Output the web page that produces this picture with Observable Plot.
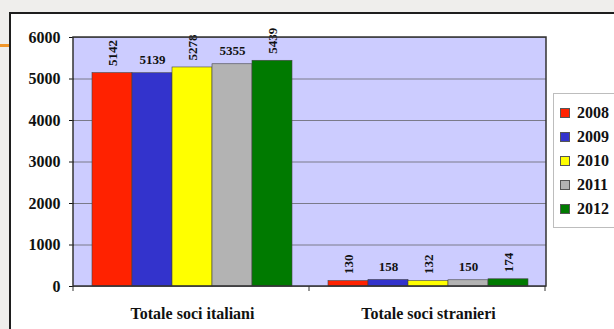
<!DOCTYPE html>
<html>
<head>
<meta charset="utf-8">
<script src="https://cdn.jsdelivr.net/npm/d3@7"></script>
<script src="https://cdn.jsdelivr.net/npm/@observablehq/plot@0.6"></script>
<style>
  body { margin:0; background:#efeeec; width:614px; height:329px; overflow:hidden; position:relative; font-family:"Liberation Serif", "Times New Roman", Times, "DejaVu Serif", serif; }
  #slide { position:absolute; left:9px; top:12px; width:700px; height:400px; background:#fff; border:2px solid #1e1e1e; box-sizing:border-box; }
  #accent { position:absolute; left:0; top:44px; width:9px; height:3px; background:#f0962a; }
  #chart { position:absolute; left:0; top:0; }
  #chart svg, #chart svg text { font-family:"Liberation Serif", "Times New Roman", Times, "DejaVu Serif", serif !important; }
  #legend { position:absolute; left:553px; top:93px; width:80px; height:135px; border:1px solid #bdbdbd; background:#fff; box-sizing:border-box; padding-top:7px; }
  .item { height:24px; display:flex; align-items:center; font-weight:bold; font-size:16px; color:#111; }
  .sw { width:10px; height:10px; margin-left:6px; margin-right:7px; border:1px solid #555; box-sizing:border-box; }
</style>
</head>
<body>
<div id="slide"></div>
<div id="accent"></div>
<div id="chart"></div>
<div id="legend"></div>
<script>
const categories = ["Totale soci italiani", "Totale soci stranieri"];
const years = ["2008", "2009", "2010", "2011", "2012"];
const italiani = [5142, 5139, 5278, 5355, 5439];
const stranieri = [130, 158, 132, 150, 174];
const colors = ["#ff2200", "#3333cc", "#ffff00", "#b3b3b3", "#007a00"];
const yTicks = [0, 1000, 2000, 3000, 4000, 5000, 6000];

const data = [];
[italiani, stranieri].forEach((vals, ci) => {
  vals.forEach((v, yi) => data.push({category: categories[ci], year: years[yi], value: v, rotated: yi % 2 === 0}));
});

const serif = "'Liberation Serif', 'Times New Roman', Times, 'DejaVu Serif', serif";

const plot = Plot.plot({
  width: 614,
  height: 329,
  marginLeft: 73,
  marginRight: 68,
  marginTop: 37,
  marginBottom: 43,
  style: { background: "transparent", fontFamily: serif, fontWeight: "bold", fontSize: "16px", color: "#111" },
  fx: { domain: categories, padding: 0, label: null, tickSize: 0, tickPadding: 21, axis: "bottom" },
  x: { domain: years, paddingInner: 0, paddingOuter: 0.39, axis: null },
  y: { domain: [0, 6000], ticks: yTicks, tickSize: 5, tickPadding: 9, label: null, tickFormat: d => String(d) },
  color: { domain: years, range: colors },
  marks: [
    Plot.gridY(yTicks, { stroke: "#7a7a8a", strokeOpacity: 1, strokeWidth: 1 }),
    Plot.barY(data, { fx: "category", x: "year", y: "value", fill: "year", stroke: "#444", strokeWidth: 0.6 }),
    Plot.text(data.filter(d => d.rotated), { fx: "category", x: "year", y: "value", text: d => String(d.value), rotate: -90, textAnchor: "start", dy: -7, fontSize: 13, fill: "#111" }),
    Plot.text(data.filter(d => !d.rotated), { fx: "category", x: "year", y: "value", text: d => String(d.value), lineAnchor: "bottom", dy: -9, fontSize: 13, fill: "#111" })
  ]
});

document.getElementById("chart").appendChild(plot);

// plot-area background, outer border and category boundary ticks from the plot's own scales
const fxs = plot.scale("fx");
const ys = plot.scale("y");
const x0 = fxs.range[0], x1 = fxs.range[1];
const yTop = ys.apply(6000), yBot = ys.apply(0);
const svg = d3.select(plot);
svg.insert("rect", ":first-child")
  .attr("x", x0).attr("y", yTop).attr("width", x1 - x0).attr("height", yBot - yTop)
  .attr("fill", "#ccccff");
svg.append("rect")
  .attr("x", x0).attr("y", yTop).attr("width", x1 - x0).attr("height", yBot - yTop)
  .attr("fill", "none").attr("stroke", "#333").attr("stroke-width", 1.5);
const bounds = d3.range(categories.length + 1).map(i => x0 + i * fxs.step);
svg.append("g").selectAll("line").data(bounds).join("line")
  .attr("x1", d => d).attr("x2", d => d)
  .attr("y1", yBot).attr("y2", yBot + 5)
  .attr("stroke", "#333").attr("stroke-width", 1);

const legend = document.getElementById("legend");
years.forEach((y, i) => {
  const row = document.createElement("div");
  row.className = "item";
  const sw = document.createElement("span");
  sw.className = "sw";
  sw.style.background = colors[i];
  row.appendChild(sw);
  row.appendChild(document.createTextNode(y));
  legend.appendChild(row);
});
</script>
</body>
</html>
